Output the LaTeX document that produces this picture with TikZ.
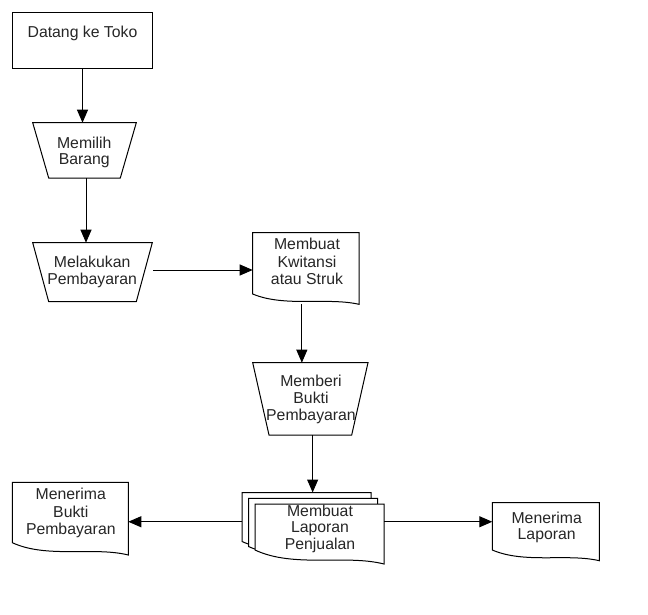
\documentclass[tikz,border=0pt]{standalone}
\usepackage{fontspec}
\setmainfont{Liberation Sans}
\usetikzlibrary{arrows.meta}
\definecolor{txt}{gray}{0.15}
% xl, yt, xr, ybl, ybr  (y measured downward)
\newcommand\docshape[5]{%
  \filldraw[shp] (#1,-#2) -- (#3,-#2) -- (#3,-#5)
    .. controls ({#1+0.7*(#3-#1)},{-(#4+0.3*(#5-#4))}) and ({#1+0.3*(#3-#1)},{-(#4+1.3*(#5-#4))}) .. (#1,-#4) -- cycle;}
\begin{document}
\begin{tikzpicture}[x=1pt,y=1pt,
  geo/.style={draw=none,inner sep=0pt,outer sep=0pt},
  shp/.style={draw=black,line width=1pt,fill=white},
  lbl/.style={font=\fontsize{15.8}{16}\selectfont,text=txt,align=center,inner sep=0pt},
  arr/.style={draw=black,line width=1pt,-{Triangle[length=13pt,width=11pt]}}]
\useasboundingbox[fill=white] (0,0) rectangle (648,-615);

% Datang ke Toko
\node[geo,draw=black,line width=1pt,minimum width=140.4pt,minimum height=56pt] (datang) at (82.5,-40.3) {};
\node[lbl] (datangT) at (82.5,-34.1) {\strut Datang ke Toko};

% Memilih Barang
\node[geo,minimum width=103.6pt,minimum height=55.3pt] (memilih) at (84.5,-150.35) {};
\draw[shp] (memilih.north west) -- (memilih.north east) -- ([xshift=-16pt]memilih.south east) -- ([xshift=16pt]memilih.south west) -- cycle;
\node[lbl] (memilihT) at (84.3,-152.8) {\strut Memilih\\\strut Barang};

% Melakukan Pembayaran
\node[geo,minimum width=119.6pt,minimum height=59pt] (melakukan) at (92.5,-272.2) {};
\draw[shp] (melakukan.north west) -- (melakukan.north east) -- ([xshift=-16pt]melakukan.south east) -- ([xshift=16pt]melakukan.south west) -- cycle;
\node[lbl] (melakukanT) at (92.2,-272.6) {\strut Melakukan\\\strut Pembayaran};

% Membuat Kwitansi atau Struk
\node[geo,minimum width=106.3pt,minimum height=71.6pt] (kw) at (305.85,-268.5) {};
\docshape{252.7}{232.7}{359}{294}{304.3}
\node[lbl] (kwT) at (307,-263.9) {\strut Membuat\\\strut Kwitansi\\\strut atau Struk};

% Memberi Bukti Pembayaran
\node[geo,minimum width=115.3pt,minimum height=72.3pt] (memberi) at (310.35,-398.85) {};
\draw[shp] (memberi.north west) -- (memberi.north east) -- ([xshift=-16.3pt]memberi.south east) -- ([xshift=16.3pt]memberi.south west) -- cycle;
\node[lbl] (memberiT) at (311,-400.2) {\strut Memberi\\\strut Bukti\\\strut Pembayaran};

% Membuat Laporan Penjualan (multi document)
\node[geo,minimum width=129pt,minimum height=58.5pt] (lapB) at (306.5,-521.75) {};
\node[geo,minimum width=129pt,minimum height=60pt] (lap) at (319.5,-534) {};
\docshape{242}{492.5}{371}{541.5}{555}
\docshape{248.5}{498.3}{377.5}{546.5}{560}
\docshape{255}{504}{384}{550}{564}
\node[lbl] (lapT) at (320,-529.6) {\strut Membuat\\\strut Laporan\\\strut Penjualan};

% Menerima Bukti Pembayaran
\node[geo,minimum width=116pt,minimum height=72.7pt] (bukti) at (70.3,-518.65) {};
\docshape{12.3}{482.3}{128.3}{542.7}{555}
\node[lbl] (buktiT) at (70.8,-513.8) {\strut Menerima\\\strut Bukti\\\strut Pembayaran};

% Menerima Laporan
\node[geo,minimum width=107pt,minimum height=58pt] (terima) at (545.8,-531.7) {};
\docshape{492.3}{502.7}{599.3}{550}{560.7}
\node[lbl] (terimaT) at (546.7,-528) {\strut Menerima\\\strut Laporan};

% connectors
\draw[arr] (datang.south) -- (datang.south |- memilih.north);
\draw[arr] ([xshift=1.5pt]memilih.south) -- ([xshift=1.5pt]memilih.south |- melakukan.north);
\draw[arr] ([xshift=60.5pt,yshift=2.2pt]melakukan.center) -- ([yshift=2.2pt]melakukan.center -| kw.west);
\draw[arr] ([xshift=-4pt]kw.south) -- ([xshift=-4pt]kw.south |- memberi.north);
\draw[arr] ([xshift=2.3pt]memberi.south) -- ([xshift=2.3pt]memberi.south |- lapB.north);
\draw[arr] (lapB.west) -- (lapB.west -| bukti.east);
\draw[arr] (lapB.west -| lap.east) -- (lapB.west -| terima.west);
\end{tikzpicture}
\end{document}
